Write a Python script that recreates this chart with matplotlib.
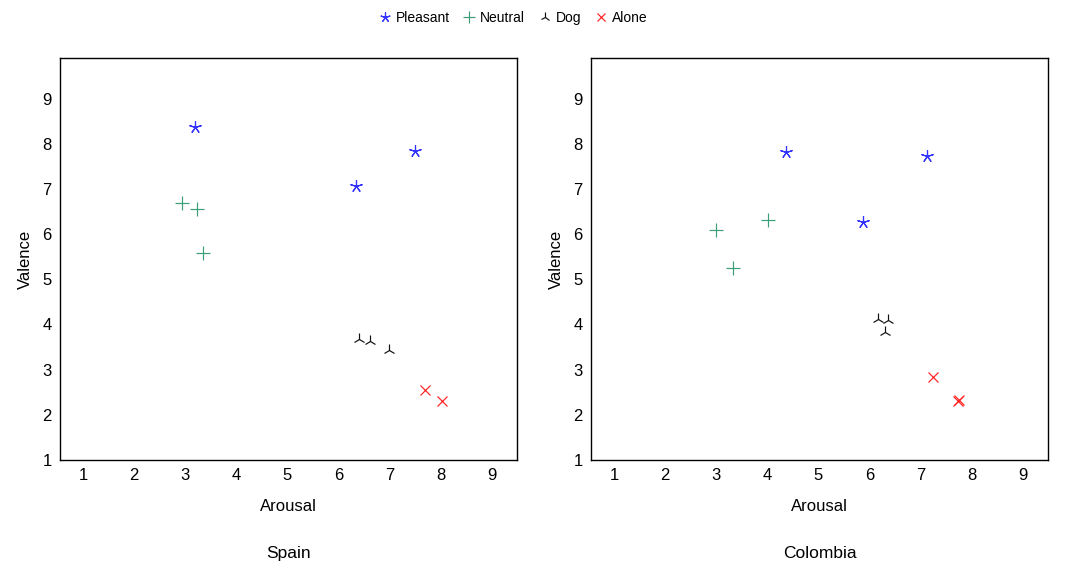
import matplotlib
matplotlib.use("Agg")
import matplotlib.pyplot as plt
from matplotlib.lines import Line2D

plt.rcParams['font.family'] = ['Liberation Sans', 'DejaVu Sans']

# Spain
spain_pleasant_x = [3.20, 6.34, 7.50]
spain_pleasant_y = [8.37, 7.06, 7.85]
spain_neutral_x = [2.94, 3.23, 3.35]
spain_neutral_y = [6.70, 6.55, 5.59]
spain_dog_x = [6.41, 6.63, 7.00]
spain_dog_y = [3.67, 3.63, 3.43]
spain_alone_x = [7.69, 8.03]
spain_alone_y = [2.54, 2.30]

# Colombia
col_pleasant_x = [4.36, 5.87, 7.13]
col_pleasant_y = [7.82, 6.27, 7.74]
col_neutral_x = [3.00, 3.33, 4.02]
col_neutral_y = [6.10, 5.26, 6.32]
col_dog_x = [6.17, 6.36, 6.30]
col_dog_y = [4.12, 4.10, 3.84]
col_alone_x = [7.24, 7.75, 7.73]
col_alone_y = [2.83, 2.33, 2.30]

ticks = [1, 2, 3, 4, 5, 6, 7, 8, 9]
labels = ['Pleasant', 'Neutral', 'Dog', 'Alone']
colors = ['#3333ff', '#3a9e78', '#111111', '#ff2020']
markers = [(5, 2), '+', '2', 'x']
sizes = [9, 10, 9, 7]

fig = plt.figure(figsize=(10.92, 5.65), dpi=100)
ax1 = fig.add_axes([60 / 1092, 1 - 460 / 565, 457 / 1092, 402 / 565])
ax2 = fig.add_axes([591 / 1092, 1 - 460 / 565, 457 / 1092, 402 / 565])

panels = [
    (ax1, 'Spain', [(spain_pleasant_x, spain_pleasant_y), (spain_neutral_x, spain_neutral_y),
                    (spain_dog_x, spain_dog_y), (spain_alone_x, spain_alone_y)]),
    (ax2, 'Colombia', [(col_pleasant_x, col_pleasant_y), (col_neutral_x, col_neutral_y),
                       (col_dog_x, col_dog_y), (col_alone_x, col_alone_y)]),
]

for ax, name, groups in panels:
    for (xs, ys), c, m, s in zip(groups, colors, markers, sizes):
        ax.plot(xs, ys, linestyle='none', marker=m, color=c, markersize=s, markeredgewidth=0.85)
    ax.set_xlim(0.55, 9.5)
    ax.set_ylim(1, 9.9)
    ax.set_xticks(ticks)
    ax.set_yticks(ticks)
    ax.tick_params(length=0, labelsize=12, pad=6)
    ax.set_xlabel('Arousal', fontsize=12, labelpad=11)
    ax.set_ylabel('Valence', fontsize=12, labelpad=7)
    for sp in ax.spines.values():
        sp.set_linewidth(1.0)
    ax.text(0.5, -0.232, name, transform=ax.transAxes, ha='center', va='center', fontsize=12.5)

handles = [Line2D([], [], linestyle='none', marker=m, color=c, markersize=s * 0.8, markeredgewidth=0.85)
           for c, m, s in zip(colors, markers, sizes)]
fig.legend(handles, labels, loc='center', bbox_to_anchor=(0.470, 1 - 18 / 565), ncol=4,
           frameon=False, fontsize=10, handlelength=0.8, handletextpad=0.4, columnspacing=1.0)

fig.savefig('out.png', dpi=100)
